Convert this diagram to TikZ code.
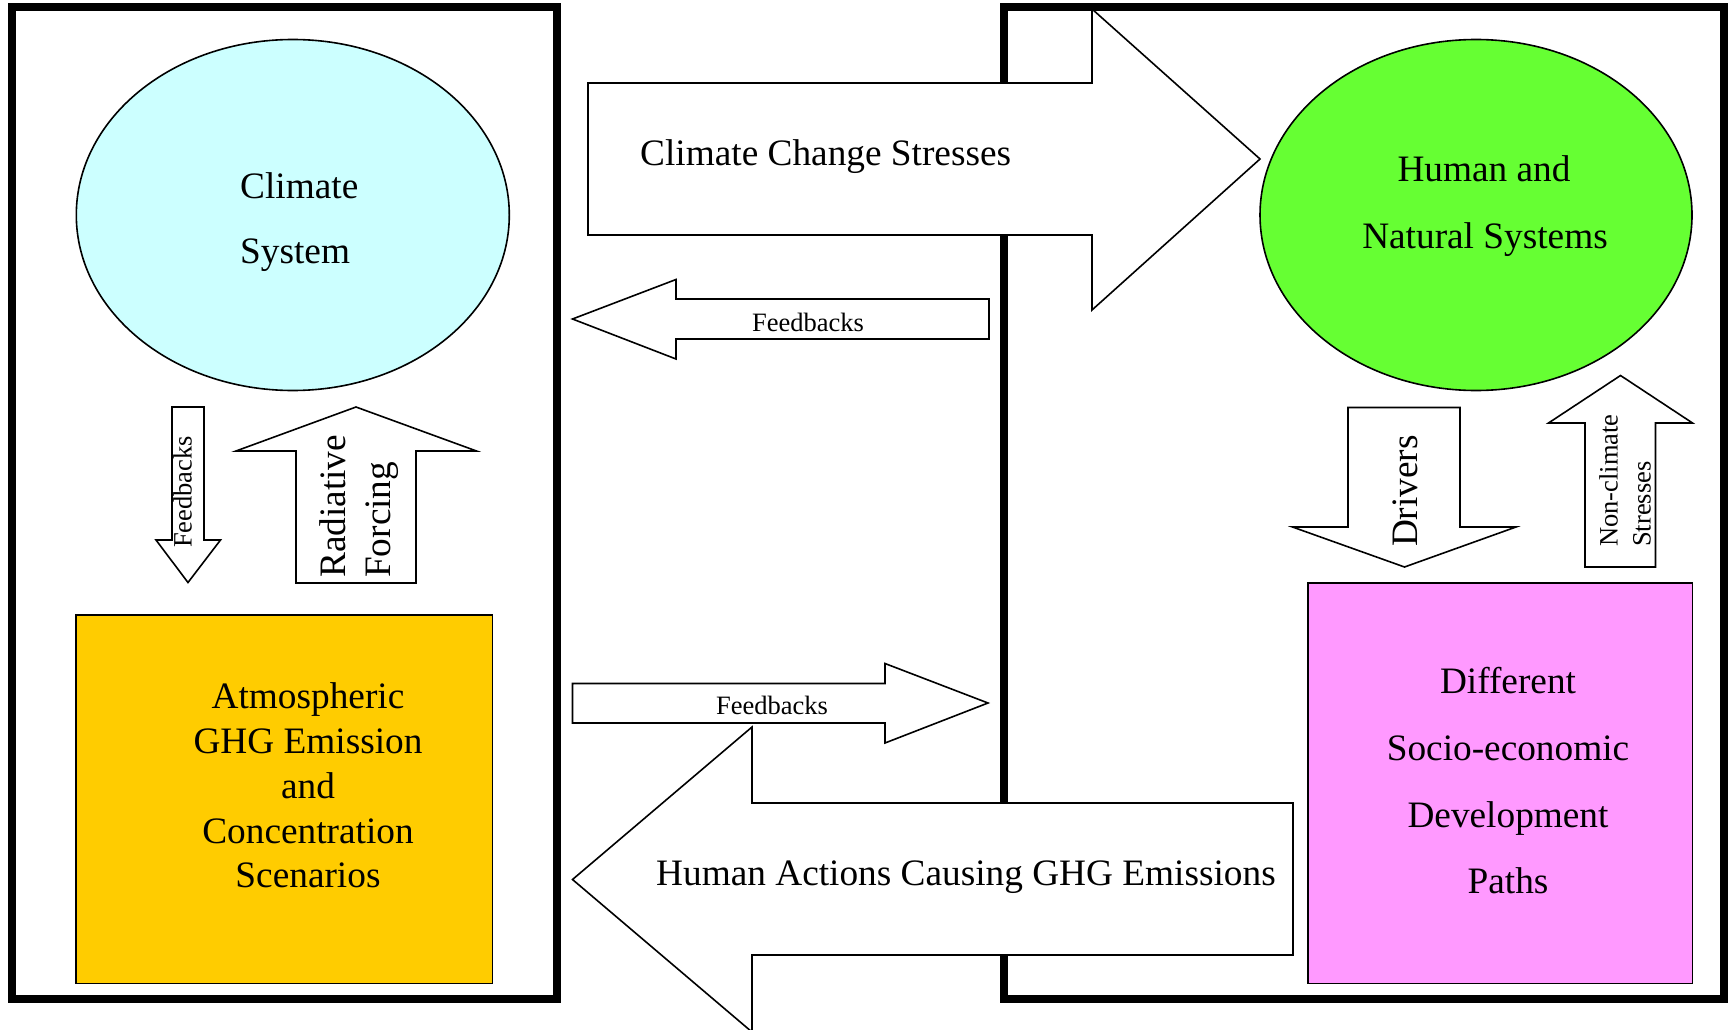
\documentclass[tikz,border=0pt]{standalone}
\usepackage{fontspec}
\setmainfont{Liberation Serif}
\usetikzlibrary{shapes.geometric}
\definecolor{climcyan}{HTML}{CCFFFF}
\definecolor{humgreen}{HTML}{66FF33}
\definecolor{atmyellow}{HTML}{FFCC00}
\definecolor{devpink}{HTML}{FF99FF}
\begin{document}
\begin{tikzpicture}[x=1pt,y=-1pt,
  frame/.style={line width=8pt},
  blockarrow/.style={draw=black,fill=white,line width=1.6pt,line join=miter},
  shapebox/.style={draw=black,line width=1.6pt},
  big/.style={font=\fontsize{37.3}{40}\selectfont, inner sep=0pt},
  small/.style={font=\fontsize{26.5}{30}\selectfont, inner sep=0pt},
]
\useasboundingbox (0,0) rectangle (1732,1030);
\clip (0,0) rectangle (1732,1030);
\fill[white] (0,0) rectangle (1732,1030);

% frames
\draw[frame] (11.5,7.5) rectangle (556.5,999);
\draw[frame] (1004,7.5) rectangle (1723.5,999);

% ellipses and boxes
\node[shapebox, fill=climcyan, ellipse, minimum width=433pt, minimum height=351pt, inner sep=0pt] (clim) at (292.8,215) {};
\node[shapebox, fill=humgreen, ellipse, minimum width=432pt, minimum height=351pt, inner sep=0pt] (hum) at (1476,215) {};
\draw[shapebox, fill=atmyellow] (76,615) rectangle (492.5,983.5);
\draw[shapebox, fill=devpink] (1308,583) rectangle (1692.5,983.5);

% block arrows
\draw[blockarrow] (588,83) -- (1092,83) -- (1092,9) -- (1260,159) -- (1092,310) -- (1092,235) -- (588,235) -- cycle;
\draw[blockarrow] (989,299) -- (676,299) -- (676,279.5) -- (572.5,319) -- (676,359) -- (676,339) -- (989,339) -- cycle;
\draw[blockarrow] (572.5,683.5) -- (885,683.5) -- (885,663.5) -- (988,703) -- (885,743) -- (885,723) -- (572.5,723) -- cycle;
\draw[blockarrow] (1293,803) -- (752,803) -- (752,727) -- (572.5,879.5) -- (752,1032) -- (752,955) -- (1293,955) -- cycle;
\draw[blockarrow] (172,407) -- (204,407) -- (204,540) -- (220.5,540) -- (188,582.5) -- (156,540) -- (172,540) -- cycle;
\draw[blockarrow] (296,583) -- (296,451) -- (236,451) -- (356,407) -- (476.5,451) -- (416,451) -- (416,583) -- cycle;
\draw[blockarrow] (1348,407.5) -- (1460,407.5) -- (1460,527) -- (1516,527) -- (1404.5,567) -- (1292.5,527) -- (1348,527) -- cycle;
\draw[blockarrow] (1585,567) -- (1585,423) -- (1548.5,423) -- (1620.5,375.5) -- (1692.5,423) -- (1655.5,423) -- (1655.5,567) -- cycle;

% texts
\node[big, anchor=base west] (t1) at (240,198) {Climate};
\node[big, anchor=base west] (t2) at (240,263) {System};
\node[big, anchor=base] (t3) at (1484,181) {Human and};
\node[big, anchor=base] (t4) at (1485,248) {Natural Systems};
\node[big, anchor=base west] (t5) at (640,165) {Climate Change Stresses};
\node[small, anchor=base] (t6) at (808,331) {Feedbacks};
\node[small, anchor=base] (t7) at (772,714) {Feedbacks};
\node[big, anchor=base west] (t8) at (656,885) {Human Actions Causing GHG Emissions};
\node[small, anchor=base, rotate=90] (t9) at (191.5,492) {Feedbacks};
\node[big, anchor=base west, rotate=90] (t10) at (345,578) {Radiative};
\node[big, anchor=base west, rotate=90] (t11) at (390,578) {Forcing};
\node[big, anchor=base, rotate=90] (t12) at (1417,491) {Drivers};
\node[small, anchor=base west, rotate=90] (t13) at (1617.5,547) {Non-climate};
\node[small, anchor=base west, rotate=90] (t14) at (1650.5,547) {Stresses};
\node[big, anchor=base] (a1) at (308,708) {Atmospheric};
\node[big, anchor=base] (a2) at (308,753) {GHG Emission};
\node[big, anchor=base] (a3) at (308,798) {and};
\node[big, anchor=base] (a4) at (308,843) {Concentration};
\node[big, anchor=base] (a5) at (308,887) {Scenarios};
\node[big, anchor=base] (d1) at (1508,693) {Different};
\node[big, anchor=base] (d2) at (1508,760) {Socio-economic};
\node[big, anchor=base] (d3) at (1508,827) {Development};
\node[big, anchor=base] (d4) at (1508,893) {Paths};
\end{tikzpicture}
\end{document}
